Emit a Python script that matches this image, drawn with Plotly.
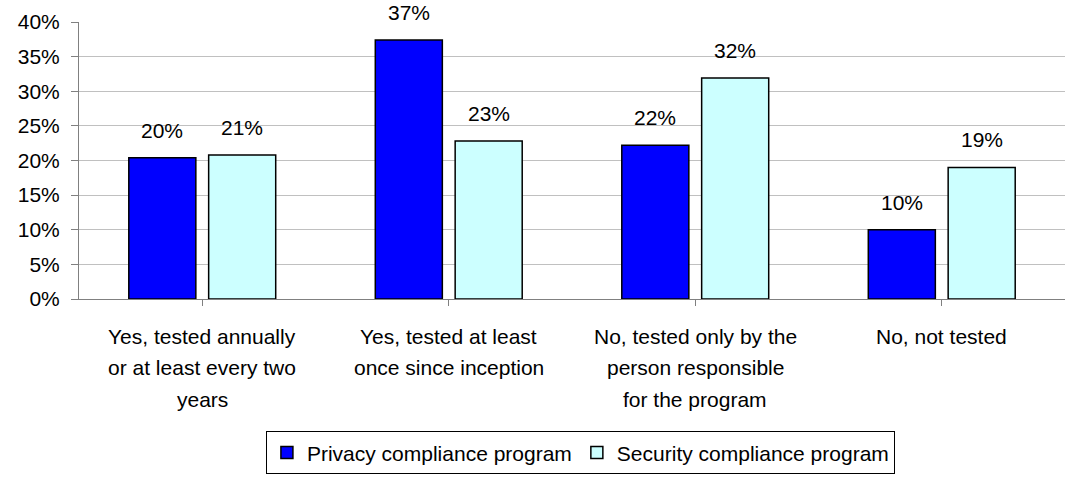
import plotly.graph_objects as go

categories = [
    "Yes, tested annually<br>or at least every two<br>years",
    "Yes, tested at least<br>once since inception",
    "No, tested only by the<br>person responsible<br>for the program",
    "No, not tested",
]
privacy = [0.204, 0.374, 0.222, 0.100]
security = [0.208, 0.228, 0.319, 0.190]
series_names = ["Privacy compliance program", "Security compliance program"]
y_ticks = [0, 0.05, 0.10, 0.15, 0.20, 0.25, 0.30, 0.35, 0.40]

FONT = "Liberation Sans, Arial, sans-serif"
FS = 21
BAR_W = 0.272
OFFSETS = [-0.298, 0.026]
COLORS = ["#0000FF", "#CCFFFF"]

x_idx = list(range(len(categories)))

fig = go.Figure()
for vals, name, off, col in zip([privacy, security], series_names, OFFSETS, COLORS):
    fig.add_trace(go.Bar(
        x=x_idx, y=vals, name=name, width=BAR_W, offset=off,
        marker=dict(color=col, line=dict(color="#000000", width=1.5)),
        hoverinfo="skip",
    ))

annotations = []
# value labels above each bar
for vals, off in zip([privacy, security], OFFSETS):
    for i, v in enumerate(vals):
        annotations.append(dict(
            x=i + off + BAR_W / 2, y=v, xref="x", yref="y",
            text=f"{v * 100:.0f}%", showarrow=False,
            yanchor="bottom", yshift=14,
            font=dict(family=FONT, size=FS, color="#000000"),
        ))
# category labels, one line at a time with wide line spacing
for i, cat in enumerate(categories):
    for j, line in enumerate(cat.split("<br>")):
        annotations.append(dict(
            x=i, y=0, xref="x", yref="y",
            text=line, showarrow=False,
            yanchor="middle", yshift=-(37 + 31.5 * j),
            font=dict(family=FONT, size=FS, color="#000000"),
        ))

fig.update_layout(
    width=1065, height=483,
    margin=dict(l=79, r=0, t=22, b=184),
    paper_bgcolor="#FFFFFF", plot_bgcolor="#FFFFFF",
    font=dict(family=FONT, size=FS, color="#000000"),
    showlegend=True,
    legend=dict(
        orientation="h", xref="container", yref="container",
        x=0.545, xanchor="center", y=0.107, yanchor="top",
        bordercolor="#000000", borderwidth=1, bgcolor="#FFFFFF",
        font=dict(family=FONT, size=FS, color="#000000"),
        itemwidth=30, tracegroupgap=0,
    ),
    annotations=annotations,
    xaxis=dict(
        range=[-0.5, 3.5], tickmode="array", tickvals=x_idx,
        showticklabels=False, showgrid=False,
        showline=True, linecolor="#808080", linewidth=1,
        ticks="outside", tickson="boundaries", ticklen=6, tickcolor="#808080",
        zeroline=False,
    ),
    yaxis=dict(
        range=[0, 0.40], tickmode="array", tickvals=y_ticks,
        ticktext=[f"{t * 100:.0f}%" for t in y_ticks],
        showgrid=True, gridcolor="#C0C0C0", gridwidth=1,
        showline=True, linecolor="#808080", linewidth=1,
        ticks="outside", ticklen=7, tickcolor="#808080",
        ticklabelstandoff=7,
        zeroline=False,
        tickfont=dict(family=FONT, size=FS, color="#000000"),
    ),
)

fig.write_html("out.html")
